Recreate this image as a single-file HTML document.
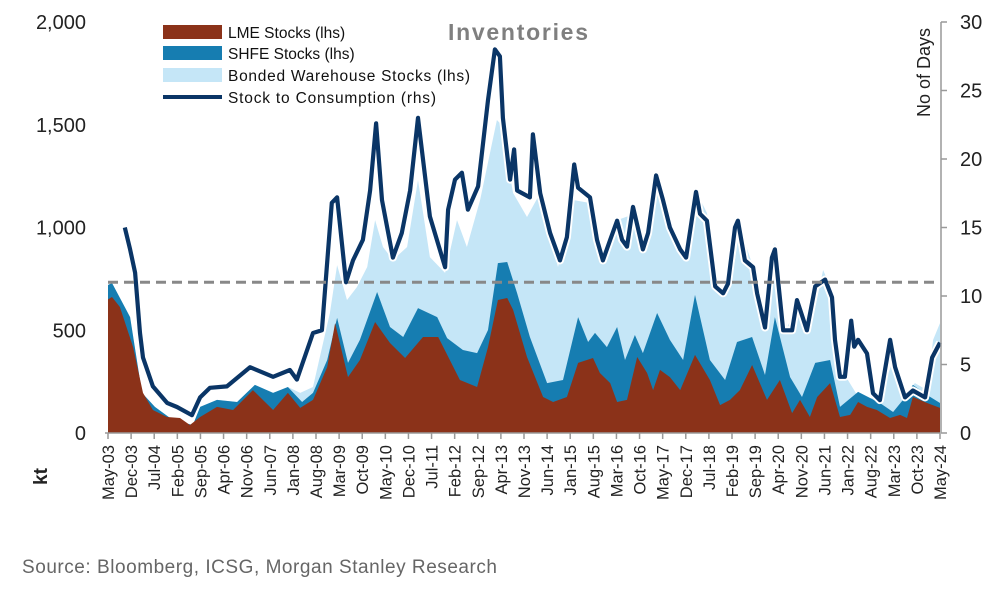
<!DOCTYPE html>
<html><head><meta charset="utf-8"><style>
body{margin:0;background:#fff;position:relative;}
svg{display:block;font-family:"Liberation Sans",sans-serif;}
</style></head><body>
<svg id="c" width="997" height="590"></svg>
<script>
const xTickLabels=["May-03","Dec-03","Jul-04","Feb-05","Sep-05","Apr-06","Nov-06","Jun-07","Jan-08","Aug-08","Mar-09","Oct-09","May-10","Dec-10","Jul-11","Feb-12","Sep-12","Apr-13","Nov-13","Jun-14","Jan-15","Aug-15","Mar-16","Oct-16","May-17","Dec-17","Jul-18","Feb-19","Sep-19","Apr-20","Nov-20","Jun-21","Jan-22","Aug-22","Mar-23","Oct-23","May-24"];
const leftTicks=[0,500,1000,1500,2000];
const rightTicks=[0,5,10,15,20,25,30];
const avgDays=11;
const lmeMonths=[0,1.2,3.6,7.6,10.6,13.6,17.9,21.8,24.8,27.9,33,37.9,43.9,50,54.5,58.2,62.1,66.4,68.8,72.7,76.3,80.9,85.4,90,95.4,100,106.6,111.8,115.1,118.1,120.9,122.7,126.9,131.8,134.8,139,142.4,146.9,149,152.1,154.2,157.2,160.3,163.3,165.1,167.2,170.2,173.3,177.8,182.3,185.4,188.4,191.4,195.1,199.6,203.5,207.2,209.6,212.6,214.8,218.7,221.7,224.8,227.2,229.9,232.9,236.9,239.9,242,243.8,248.1,252];
const lmeKt=[650,662,613,418,195,112,78,73,39,78,127,112,209,112,195,122,161,321,535,272,355,540,438,365,467,467,258,224,418,647,657,599,370,175,151,175,341,365,292,243,151,161,370,292,209,307,272,209,380,258,136,161,209,331,161,258,97,161,78,175,243,78,88,151,127,112,73,88,73,175,146,122];
const shfeCumMonths=[0,1.2,6.7,10.3,14.2,19.7,25.7,27.9,33,39.1,44.5,50,54.5,58.8,62.1,66.4,69.4,72.7,76.3,81.5,85.4,89.4,93.9,99.7,102.7,107.5,111.8,115.1,118.1,120.9,123.9,127.8,133,137.8,142.4,145.4,147.5,151.1,154.2,156.6,159.6,162,166.3,170.2,174.2,177.8,182.3,186.9,190.5,195.1,199,202,206.6,210.2,214.2,218.7,221.7,227.2,233.8,237.8,240.8,243.8,248.1,252];
const lmePlusShfeKt=[720,730,564,195,127,63,39,127,161,151,234,195,224,151,195,355,560,341,453,686,516,467,608,564,462,404,389,501,827,832,681,467,243,258,564,443,487,418,516,355,477,389,584,453,355,672,355,258,443,467,282,564,272,175,341,355,127,200,146,102,161,234,185,146];
const totalMonths=[0,1.2,6.7,10.3,14.2,19.7,25.7,27.9,33,39.1,44.5,50,54.5,58.2,62.1,67.2,69.4,72.4,75.4,78.5,80.9,83.3,86.3,90.6,93.9,97.5,102.1,105.7,108.7,112.7,117.8,118.7,120.9,122.7,126.9,130.9,136.3,140.9,146,149,149.9,154.2,160.3,162,166.3,170.2,174.8,178.4,181.4,185.4,189.3,191.4,195.4,199,202,205.7,209.6,212.6,216.6,219.6,221.7,225.4,227.8,233.8,237.5,240.8,244.4,248.1,249.9,252];
const totalKt=[720,730,564,195,127,63,39,127,161,151,234,195,224,195,224,584,817,647,710,808,1036,905,842,905,1231,856,779,1036,905,1134,1523,1508,1328,1168,1051,1168,808,1134,1119,939,856,1036,1071,876,1231,1022,842,1168,1071,696,779,1002,808,501,925,516,633,487,793,681,321,224,161,175,341,175,243,209,453,535];
const stcMonths=[5.1,6.7,8.2,9.7,10.6,13.6,17.9,20.9,25.4,27.9,30.9,36,43,50,55.1,57.2,62.1,64.8,67.8,69.4,72.1,74.2,77.2,79.4,81.2,83,86.3,89,91.5,93.9,97.5,102.1,103,105.1,107.2,109,112.1,115.1,117.2,118.7,119.6,121.8,123,123.9,127.8,128.7,130.9,133.9,136.9,139,141.2,142.4,146,148.1,149.9,152.1,154.2,155.7,157.2,159,162,163.6,166,168.1,170.2,173.3,175.1,178.1,179.3,181.4,183.9,186.3,187.8,189.9,190.8,192.9,195.4,196.6,199,201.1,202,204.5,207.2,208.7,211.7,214.2,217.2,219.3,220.2,221.7,223.2,225.1,226,227.2,229.9,231.7,233.8,236.9,238.4,241.4,243.8,247.5,249.6,252];
const stcDays=[15,13.4,11.7,7.3,5.5,3.4,2.2,1.9,1.3,2.6,3.3,3.4,4.8,4.1,4.6,3.9,7.3,7.5,16.8,17.2,11,12.6,14.1,17.7,22.6,17,12.8,14.6,17.7,23,15.8,12.1,16.3,18.5,19,16.3,18,24.3,28,27.5,23,18.5,20.7,17.7,17.2,21.8,17.5,14.6,12.6,14.3,19.6,17.9,17.2,14.1,12.6,14.1,15.5,14.1,13.6,16.5,13.4,14.6,18.8,17,15,13.4,12.8,17.6,16,15.5,10.7,10.2,10.9,15,15.5,12.6,12.1,10.2,7.7,12.8,13.4,7.5,7.5,9.7,7.5,10.7,11.2,9.9,6.8,4.1,4.1,8.2,6.3,6.8,5.8,2.9,2.4,6.8,4.8,2.6,3.1,2.6,5.5,6.6];

const NS="http://www.w3.org/2000/svg",svg=document.getElementById('c');
const X0=108,X1=940,Y0=433,Y1=22,MAXM=252;
const xs=m=>X0+(X1-X0)*m/MAXM;
const yL=v=>Y0-(Y0-Y1)*v/2000;
const yR=v=>Y0-(Y0-Y1)*v/30;
function mk(t,a,p){const e=document.createElementNS(NS,t);for(const k in a)e.setAttribute(k,a[k]);(p||svg).appendChild(e);return e;}
function area(ms,vs,fill,name){let d=`M${xs(ms[0])},${Y0}`;ms.forEach((m,i)=>d+=`L${xs(m).toFixed(1)},${yL(vs[i]).toFixed(1)}`);d+=`L${xs(ms[ms.length-1])},${Y0}Z`;
const e=mk('path',{d:d,fill:fill});}
area(totalMonths,totalKt,'#c5e6f7','bonded-warehouse-area');
area(shfeCumMonths,lmePlusShfeKt,'#167db1','shfe-stocks-area');
area(lmeMonths,lmeKt,'#8b3219','lme-stocks-area');
let d='';stcMonths.forEach((m,i)=>d+=(i?'L':'M')+xs(m).toFixed(1)+','+yR(stcDays[i]).toFixed(1));
let ln=mk('path',{d:d,fill:'none',stroke:'#fff',"stroke-width":8,"stroke-linejoin":"round"});

ln=mk('path',{d:d,fill:'none',stroke:'#0a3566',"stroke-width":4.2,"stroke-linejoin":"round"});

let av=mk('line',{x1:X0,x2:X1,y1:yR(avgDays),y2:yR(avgDays),stroke:'#888',"stroke-width":3,"stroke-dasharray":"10,6"});

let ax=mk('line',{x1:X0-3,x2:X1,y1:Y0,y2:Y0,stroke:'#999',"stroke-width":1.5});
ax=mk('line',{x1:X1+1,x2:X1+1,y1:Y1,y2:Y0,stroke:'#999',"stroke-width":1.5});
xTickLabels.forEach((l,i)=>{const x=xs(i*7);
const t=mk('line',{x1:x,x2:x,y1:Y0,y2:Y0+6,stroke:'#999',"stroke-width":1.5});
const tx=mk('text',{x:0,y:0,transform:`translate(${x+6},${Y0+12}) rotate(-90)`,"text-anchor":"end","font-size":16.5,fill:'#222'});tx.textContent=l;
});
leftTicks.forEach(v=>{const t=mk('text',{x:86,y:yL(v)+7,"text-anchor":"end","font-size":20,fill:'#222'});t.textContent=v.toLocaleString('en-US');
});
rightTicks.forEach(v=>{const k=mk('line',{x1:X1+1,x2:X1+7,y1:yR(v),y2:yR(v),stroke:'#999',"stroke-width":1.5});
const t=mk('text',{x:960,y:yR(v)+7,"font-size":20,fill:'#222'});t.textContent=v;
});
</script>
<svg width="997" height="590" style="position:absolute;left:0;top:0;font-family:'Liberation Sans',sans-serif">
<text x="448" y="40" font-size="23" font-weight="bold" fill="#7f7f7f" textLength="140">Inventories</text>
<g font-size="15.5" fill="#111">
<rect x="163" y="25" width="59" height="14" fill="#8b3219"/>
<text x="228" y="38">LME Stocks (lhs)</text>
<rect x="163" y="46" width="59" height="14" fill="#167db1"/>
<text x="228" y="59">SHFE Stocks (lhs)</text>
<rect x="163" y="68" width="59" height="14" fill="#c5e6f7"/>
<text x="228" y="81" textLength="242">Bonded Warehouse Stocks (lhs)</text>
<line x1="163" x2="222" y1="97" y2="97" stroke="#0a3566" stroke-width="4"/>
<text x="228" y="103" textLength="208">Stock to Consumption (rhs)</text>
</g>
<text transform="translate(930,117) rotate(-90)" font-size="18" fill="#222">No of Days</text>
<text transform="translate(47,485) rotate(-90)" font-size="19" font-weight="bold" fill="#222">kt</text>
<text x="22" y="573" font-size="19" fill="#666" textLength="475">Source: Bloomberg, ICSG, Morgan Stanley Research</text>
</svg>
</body></html>
